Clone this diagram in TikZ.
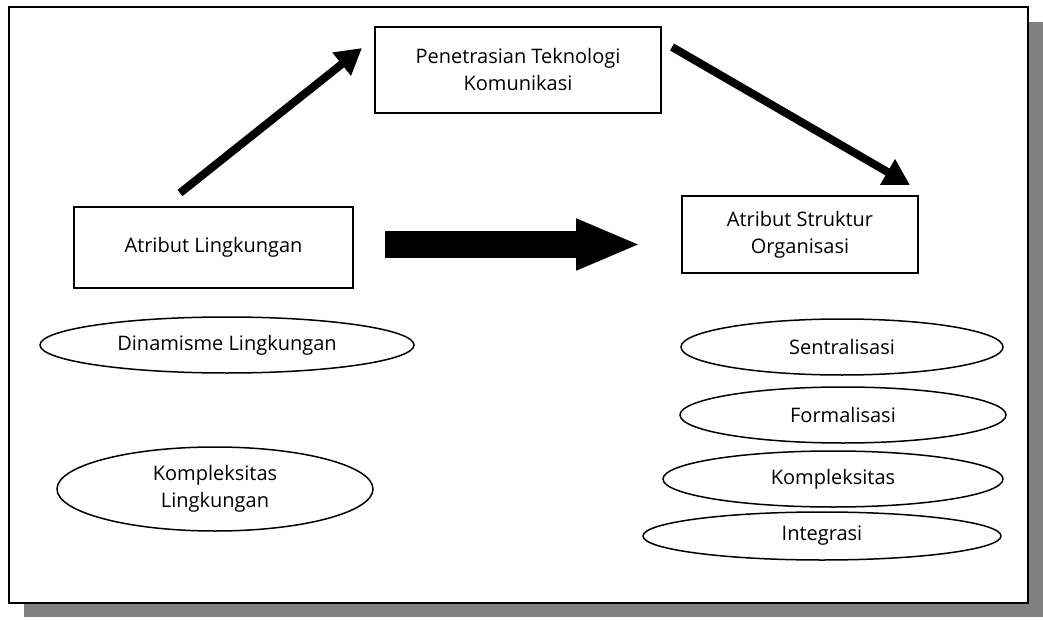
\documentclass[tikz,border=0pt]{standalone}
\usepackage{fontspec}
\setmainfont{Open Sans}
\usetikzlibrary{arrows.meta}
\usetikzlibrary{shapes.geometric}
\definecolor{shadowgray}{RGB}{128,128,128}
\newcommand{\labelfont}{\fontsize{20}{27}\selectfont}
\def\boxthickness{1.8pt}
\def\ovalthickness{1.5pt}
\tikzset{
  kotak/.style={draw, line width=\boxthickness, align=center, inner sep=0pt, font=\labelfont},
  elips/.style={draw, ellipse, line width=\ovalthickness, align=center, inner sep=0pt, font=\labelfont},
  panah/.style={-{Triangle[length=26pt,width=28pt]}, line width=8pt},
  panahbesar/.style={-{Triangle[length=65pt,width=47pt]}, line width=27pt},
}

\begin{document}
\begin{tikzpicture}[x=1pt, y=-1pt]
    \useasboundingbox (0, 0) rectangle (1043, 620);
    \fill[shadowgray] (24, 22) rectangle (1043, 617);
    \draw[fill=white, line width=\boxthickness] (9, 7) rectangle (1028, 603);
    \node[kotak, minimum width=286pt, minimum height=86pt] at (518, 70) (tekno) {Penetrasian Teknologi\\Komunikasi};
    \node[kotak, minimum width=279pt, minimum height=81pt] at (213.5, 247.5) (lingk) {Atribut Lingkungan};
    \node[kotak, minimum width=236pt, minimum height=77pt] at (800, 234.5) (struk) {Atribut Struktur\\Organisasi};
    \node[elips, minimum width=374pt, minimum height=56pt] at (227, 345) (dinamis) {Dinamisme Lingkungan};
    \node[elips, minimum width=316pt, minimum height=84pt] at (215, 489) (komplingk) {Kompleksitas\\Lingkungan};
    \node[elips, minimum width=322pt, minimum height=56pt] at (842, 347) (sentral) {Sentralisasi};
    \node[elips, minimum width=326pt, minimum height=56pt] at (843, 415) (formal) {Formalisasi};
    \node[elips, minimum width=340pt, minimum height=56pt] at (833, 479) (kompleks) {Kompleksitas};
    \node[elips, minimum width=358pt, minimum height=48pt] at (822, 536) (integ) {Integrasi};
    \coordinate (a1) at (180, 193);
    \coordinate (a2) at (362, 48);
    \coordinate (b1) at (672, 47);
    \coordinate (b2) at (910, 185);
    \coordinate (c1) at (385, 244.5);
    \coordinate (c2) at (641, 244.5);
    \draw[panah] (a1) -- (a2);
    \draw[panah] (b1) -- (b2);
    \draw[panahbesar] (c1) -- (c2);
\end{tikzpicture}
\end{document}
